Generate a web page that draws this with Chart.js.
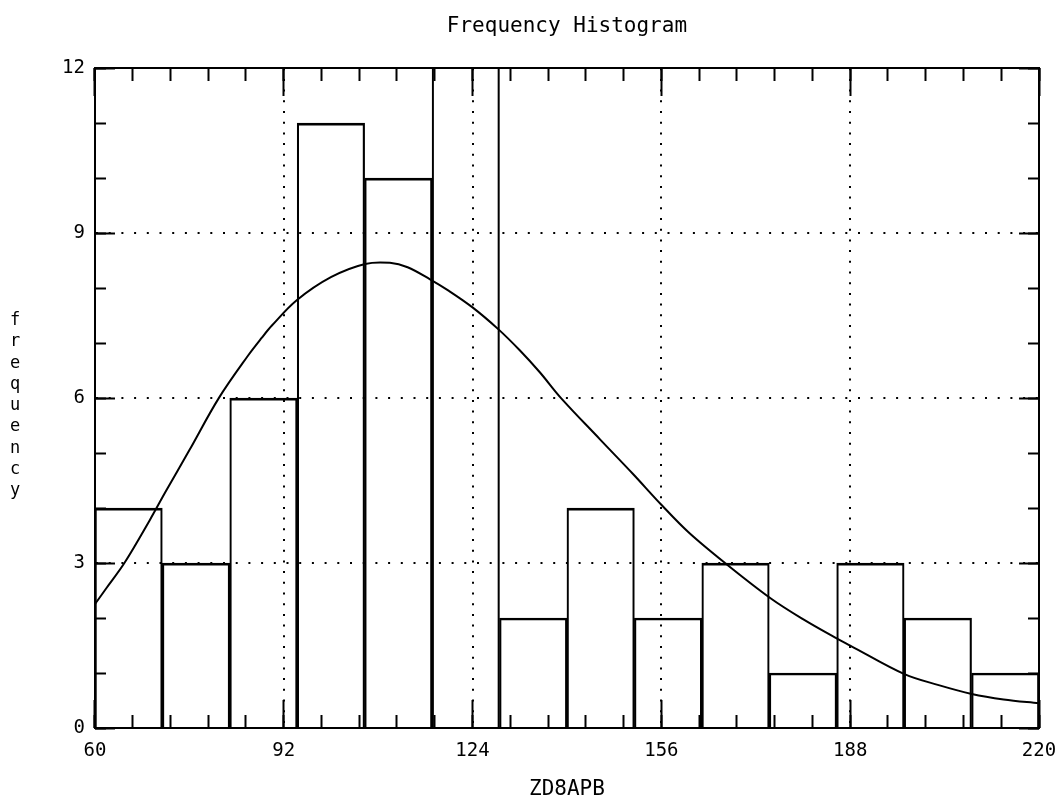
<!DOCTYPE html>
<html>
<head>
<meta charset="utf-8">
<script src="https://cdn.jsdelivr.net/npm/chart.js@4.4.1/dist/chart.umd.min.js"></script>
<style>
html,body{margin:0;padding:0;background:#fff;}
#wrap{position:relative;width:1060px;height:802px;}
#c{display:block;}
#ylab{position:absolute;left:10px;top:309px;width:1ch;font-family:'DejaVu Sans Mono',monospace;font-size:17px;line-height:21.3px;word-break:break-all;text-align:center;color:#000;}
</style>
</head>
<body>
<div id="wrap">
<canvas id="c" width="1060" height="802" style="width:1060px;height:802px"></canvas>
<div id="ylab">frequency</div>
</div>
<script>
// Bin start values (14 equal bins spanning 60..220)
const binStarts = ['60.0','71.4','82.9','94.3','105.7','117.1','128.6','140.0','151.4','162.9','174.3','185.7','197.1','208.6'];
// Bin counts (the 6th bin runs off the top of the plot)
const counts = [4, 3, 6, 11, 10, 14, 2, 4, 2, 3, 1, 3, 2, 1];
// Fitted density curve
const curveX = [60, 62, 65, 69.3, 72, 76, 81, 86, 88.3, 90, 94.2, 100, 105.8, 110, 113, 116.8, 120, 124, 128.4, 132, 135.4, 139, 145.6, 151.2, 156, 160.6, 166.8, 174.5, 180, 185.7, 188, 197.2, 203, 208.6, 214, 220];
const curveY = [2.25, 2.55, 3.0, 3.78, 4.3, 5.05, 6.0, 6.78, 7.1, 7.32, 7.78, 8.2, 8.44, 8.46, 8.38, 8.16, 7.95, 7.65, 7.25, 6.87, 6.47, 6.0, 5.25, 4.62, 4.06, 3.56, 3.0, 2.36, 1.98, 1.63, 1.5, 0.98, 0.78, 0.62, 0.52, 0.45];
// Axis ranges and tick steps
const xRange = [60, 220];
const yRange = [0, 12];
const xMajorStep = 32, xMinorStep = 6.4;
const yMajorStep = 3, yMinorStep = 1;

const FONT = "'DejaVu Sans Mono', 'Liberation Mono', monospace";
Chart.defaults.font.family = FONT;
Chart.defaults.color = '#000';

function tickAxis(axis, position, step, len, width) {
  const r = axis === 'x' ? xRange : yRange;
  return {
    type: 'linear', axis: axis, position: position, min: r[0], max: r[1], offset: false,
    ticks: { display: false, stepSize: step, autoSkip: false },
    grid: { display: true, offset: false, drawOnChartArea: false, drawTicks: true, tickLength: len, tickColor: '#000', tickWidth: width, color: '#000' },
    border: { display: false }
  };
}

new Chart(document.getElementById('c'), {
  type: 'bar',
  data: {
    labels: binStarts,
    datasets: [
      {
        type: 'bar',
        data: counts,
        xAxisID: 'x', yAxisID: 'y',
        backgroundColor: 'rgba(0,0,0,0)',
        borderColor: '#000',
        borderWidth: { top: 2, left: 1.5, right: 1.5, bottom: 0 },
        barPercentage: 1, categoryPercentage: 1,
        grouped: false,
        clip: 0, order: 2
      },
      {
        type: 'line',
        data: curveX.map((x, i) => ({ x: x, y: curveY[i] })),
        xAxisID: 'xv', yAxisID: 'y',
        borderColor: '#000', borderWidth: 2,
        pointRadius: 0, fill: false,
        tension: 0.35,
        clip: 0, order: 1
      }
    ]
  },
  options: {
    responsive: false,
    animation: false,
    events: [],
    layout: { padding: { left: 52, right: 21, top: 0, bottom: 0 } },
    plugins: {
      legend: { display: false },
      tooltip: { enabled: false },
      title: {
        display: true, text: 'Frequency Histogram', fullSize: false,
        font: { size: 21, weight: 'normal' }, color: '#000',
        padding: { top: 14, bottom: 29 }
      }
    },
    scales: {
      x: { type: 'category', display: false, offset: true, grid: { offset: true } },
      xv: {
        type: 'linear', axis: 'x', position: 'bottom', min: xRange[0], max: xRange[1], offset: false,
        ticks: { stepSize: xMajorStep, padding: 0, font: { size: 19 }, color: '#000', autoSkip: false, maxRotation: 0 },
        grid: { color: '#000', lineWidth: 2, drawTicks: true, tickLength: 12, tickColor: 'rgba(0,0,0,0)', offset: false },
        border: { display: true, color: '#000', width: 2, dash: [2, 8.7] },
        title: { display: true, text: 'ZD8APB', font: { size: 21 }, color: '#000', padding: { top: 14, bottom: 0 } }
      },
      y: {
        type: 'linear', position: 'left', min: yRange[0], max: yRange[1],
        ticks: { stepSize: yMajorStep, padding: 10, font: { size: 19 }, color: '#000' },
        grid: { color: '#000', lineWidth: 2, drawTicks: false },
        border: { display: true, color: '#000', width: 2, dash: [2, 10.7] }
      },
      xTop: {
        type: 'linear', axis: 'x', position: 'top', min: xRange[0], max: xRange[1], offset: false,
        ticks: { display: false }, grid: { display: false, drawTicks: false, offset: false },
        border: { display: true, color: '#000', width: 2 }
      },
      yRight: {
        type: 'linear', axis: 'y', position: 'right', min: yRange[0], max: yRange[1],
        ticks: { display: false }, grid: { display: false, drawTicks: false },
        border: { display: true, color: '#000', width: 2 }
      },
      xMinB: tickAxis('x', { y: 0 }, xMinorStep, -13, 2),
      xMajB: tickAxis('x', { y: 0 }, xMajorStep, -28, 2),
      xMinT: tickAxis('x', { y: 12 }, xMinorStep, 13, 2),
      xMajT: tickAxis('x', { y: 12 }, xMajorStep, 28, 2),
      yMinL: tickAxis('y', { xv: 60 }, yMinorStep, -11, 2),
      yMajL: tickAxis('y', { xv: 60 }, yMajorStep, -20, 2),
      yMinR: tickAxis('y', { xv: 220 }, yMinorStep, 11, 2),
      yMajR: tickAxis('y', { xv: 220 }, yMajorStep, 20, 2)
    }
  }
});
</script>
</body>
</html>
